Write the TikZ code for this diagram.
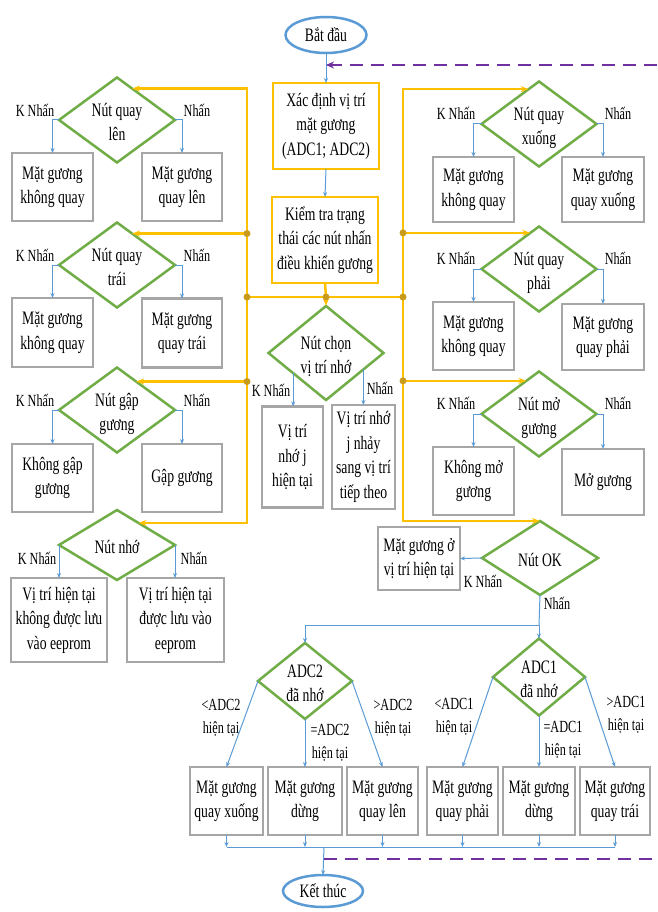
\documentclass[tikz,border=0pt]{standalone}
\usepackage{fontspec}
\setmainfont{Liberation Serif}[FakeStretch=0.72]
\usetikzlibrary{shapes.geometric,arrows.meta,calc}
\definecolor{ogold}{HTML}{FFC000}
\definecolor{odotc}{HTML}{C99B1C}
\definecolor{dgreen}{HTML}{70AD47}
\definecolor{lblue}{HTML}{5B9BD5}
\definecolor{bgray}{HTML}{A6A6A6}
\definecolor{purp}{HTML}{7030A0}
\newcommand{\dtxt}[1]{\smash{\raisebox{-8pt}{\makebox[0pt]{\begin{tabular}{@{}c@{}}#1\end{tabular}}}}}
\tikzset{
  diam/.style={diamond, draw=dgreen, line width=2.5pt, inner sep=0pt, outer sep=0pt, font=\fontsize{19}{24.5}\selectfont},
  gbox/.style={rectangle, draw=bgray, line width=2.8pt, inner sep=0pt, outer sep=0pt, align=center, font=\fontsize{19}{24.5}\selectfont},
  obox/.style={gbox, draw=ogold},
  term/.style={ellipse, draw=lblue, line width=2.5pt, inner sep=0pt, outer sep=0pt, font=\fontsize{19}{24}\selectfont},
  lab/.style={font=\fontsize{17}{23}\selectfont, align=center, inner sep=0pt},
  oline/.style={draw=ogold, line width=2.5pt},
  otip/.style={-{Stealth[length=8pt,width=6pt]}},
  bline/.style={draw=lblue, line width=1pt},
  barrow/.style={bline, -{Stealth[length=5pt,width=4pt]}},
  pline/.style={draw=purp, line width=2.5pt, dash pattern=on 13pt off 8pt},
  odot/.style={circle, fill=odotc, inner sep=0pt, minimum size=7pt}
}
\begin{document}
\begin{tikzpicture}[x=1pt,y=-1pt]
\fill[white] (0,0) rectangle (657,912);
\useasboundingbox (0,0) rectangle (657,912);

% terminals and central boxes
\node[term, minimum width=81pt, minimum height=36pt] (start) at (326,35) {Bắt đầu};
\node[obox, minimum width=106pt, minimum height=86pt] (b1) at (326,126) {Xác định vị trí\\mặt gương\\(ADC1; ADC2)};
\node[obox, minimum width=106pt, minimum height=86pt] (b2) at (325,240) {Kiểm tra trạng\\thái các nút nhấn\\điều khiển gương};
\node[term, minimum width=80pt, minimum height=32pt] (end) at (323,891) {Kết thúc};

% diamonds
\node[diam, minimum width=116pt, minimum height=85pt] (d1) at (117,120) {\dtxt{Nút quay\\lên}};
\node[diam, minimum width=116pt, minimum height=85pt] (d2) at (117,265) {\dtxt{Nút quay\\trái}};
\node[diam, minimum width=116pt, minimum height=85pt] (d3) at (117,410) {\dtxt{Nút gập\\gương}};
\node[diam, minimum width=116pt, minimum height=70pt] (d4) at (117,545) {\dtxt{Nút nhớ}};
\node[diam, minimum width=115pt, minimum height=85pt] (d5) at (539,124) {\dtxt{Nút quay\\xuống}};
\node[diam, minimum width=115pt, minimum height=85pt] (d6) at (539,269) {\dtxt{Nút quay\\phải}};
\node[diam, minimum width=115pt, minimum height=94pt] (d7) at (326,353) {\dtxt{Nút chọn\\vị trí nhớ}};
\node[diam, minimum width=115pt, minimum height=85pt] (d8) at (539,414) {\dtxt{Nút mở\\gương}};
\node[diam, minimum width=116pt, minimum height=74pt] (d9) at (540,558) {\dtxt{Nút OK}};
\node[diam, minimum width=94pt, minimum height=76pt] (d10) at (305,681) {\dtxt{ADC2\\đã nhớ}};
\node[diam, minimum width=92pt, minimum height=77pt] (d11) at (539,677) {\dtxt{ADC1\\đã nhớ}};

% left boxes
\node[gbox, minimum width=81pt, minimum height=68pt] (bA1) at (52.5,187) {Mặt gương\\không quay};
\node[gbox, minimum width=80pt, minimum height=68pt] (bB1) at (182,187) {Mặt gương\\quay lên};
\node[gbox, minimum width=81pt, minimum height=69pt] (bA2) at (52.5,332.5) {Mặt gương\\không quay};
\node[gbox, minimum width=80pt, minimum height=69pt] (bB2) at (182,333) {Mặt gương\\quay trái};
\node[gbox, minimum width=81pt, minimum height=68pt] (bA3) at (52.5,478) {Không gập\\gương};
\node[gbox, minimum width=80pt, minimum height=68pt] (bB3) at (182,478) {Gập gương};
\node[gbox, minimum width=96pt, minimum height=84pt] (bA4) at (59,620) {Vị trí hiện tại\\không được lưu\\vào eeprom};
\node[gbox, minimum width=97pt, minimum height=84pt] (bB4) at (175.5,620) {Vị trí hiện tại\\được lưu vào\\eeprom};

% right boxes
\node[gbox, minimum width=81pt, minimum height=65pt] (bC1) at (473.5,189.5) {Mặt gương\\không quay};
\node[gbox, minimum width=82pt, minimum height=65pt] (bD1) at (603,189.5) {Mặt gương\\quay xuống};
\node[gbox, minimum width=81pt, minimum height=68pt] (bC2) at (473.5,336) {Mặt gương\\không quay};
\node[gbox, minimum width=82pt, minimum height=66pt] (bD2) at (603,337) {Mặt gương\\quay phải};
\node[gbox, minimum width=81pt, minimum height=68pt] (bC3) at (473.5,481) {Không mở\\gương};
\node[gbox, minimum width=82pt, minimum height=66pt] (bD3) at (603,482) {Mở gương};

% middle boxes
\node[gbox, minimum width=61pt, minimum height=101pt] (bM1) at (292.5,457) {Vị trí\\nhớ j\\hiện tại};
\node[gbox, minimum width=63pt, minimum height=104pt] (bM2) at (363.5,457) {Vị trí nhớ\\j nhảy\\sang vị trí\\tiếp theo};
\node[gbox, minimum width=82pt, minimum height=63pt] (bOK) at (419,558.5) {Mặt gương ở\\vị trí hiện tại};

% bottom boxes
\node[gbox, minimum width=73pt, minimum height=68pt] (bx1) at (226.5,801) {Mặt gương\\quay xuống};
\node[gbox, minimum width=74pt, minimum height=68pt] (bx2) at (305,801) {Mặt gương\\dừng};
\node[gbox, minimum width=71pt, minimum height=68pt] (bx3) at (382.5,801) {Mặt gương\\quay lên};
\node[gbox, minimum width=71pt, minimum height=68pt] (bx4) at (462.5,801) {Mặt gương\\quay phải};
\node[gbox, minimum width=72pt, minimum height=68pt] (bx5) at (539,801) {Mặt gương\\dừng};
\node[gbox, minimum width=70pt, minimum height=68pt] (bx6) at (615,801) {Mặt gương\\quay trái};

% coordinates
\coordinate (busL) at (247,297);
\coordinate (busM) at (326,297);
\coordinate (busR) at (403,297);
\coordinate (e1) at ($(d1.north)!0.26!(d1.east)$);
\coordinate (e2) at ($(d2.north)!0.26!(d2.east)$);
\coordinate (e3) at ($(d3.north)!0.33!(d3.east)$);
\coordinate (e4) at ($(d4.north)!0.37!(d4.east)$);
\coordinate (e5) at ($(d5.north)!0.18!(d5.west)$);
\coordinate (e6) at ($(d6.north)!0.15!(d6.west)$);
\coordinate (e8) at ($(d8.north)!0.22!(d8.west)$);
\coordinate (pL) at ($(d7.west)!0.43!(d7.south)$);
\coordinate (pR) at ($(d7.east)!0.35!(d7.south)$);
\coordinate (jB) at (539,625);
\coordinate (jC) at (324,847);
\coordinate (pT) at (326,65);
\coordinate (pR1) at (657,65);
\coordinate (pB) at (324,859);
\coordinate (pR2) at (657,859);

% orange control flow
\draw[oline,{Stealth[length=8pt,width=6pt]}-{Stealth[length=8pt,width=6pt]}] (e1) -| (busL) |- (e4);
\draw[oline,{Stealth[length=8pt,width=6pt]}-{Stealth[length=8pt,width=6pt]}] (e5) -| (busR) |- (d9.north);
\draw[oline] (busL) -- (busR);
\draw[oline] (b2.south) -- (busM);
\draw[oline,otip] (busM) -- (d7.north);
\draw[oline,otip] (busL |- e2) -- (e2);
\draw[oline,otip] (busL |- e3) -- (e3);
\draw[oline,otip] (busR |- e6) -- (e6);
\draw[oline,otip] (busR |- e8) -- (e8);
\node[odot] (dt1) at (busL |- e2) {};
\node[odot] (dt2) at (busL) {};
\node[odot] (dt3) at (busL |- e3) {};
\node[odot] (dt4) at (busM) {};
\node[odot] (dt5) at (busR |- e6) {};
\node[odot] (dt6) at (busR) {};
\node[odot] (dt7) at (busR |- e8) {};

% blue arrows
\draw[barrow] (start.south) -- (b1.north);
\draw[barrow] (b1.south) -- (b2.north);
\draw[barrow] (d1.west) -| (bA1.north);
\draw[barrow] (d1.east) -| (bB1.north);
\draw[barrow] (d2.west) -| (bA2.north);
\draw[barrow] (d2.east) -| (bB2.north);
\draw[barrow] (d3.west) -| (bA3.north);
\draw[barrow] (d3.east) -| (bB3.north);
\draw[barrow] (d4.west) -- (d4.west |- bA4.north);
\draw[barrow] (d4.east) -- (d4.east |- bB4.north);
\draw[barrow] (d5.west) -| (bC1.north);
\draw[barrow] (d5.east) -| (bD1.north);
\draw[barrow] (d6.west) -| (bC2.north);
\draw[barrow] (d6.east) -| (bD2.north);
\draw[barrow] (d8.west) -| (bC3.north);
\draw[barrow] (d8.east) -| (bD3.north);
\draw[barrow] (pL) -- (pL |- bM1.north);
\draw[barrow] (pR) -- (pR |- bM2.north);
\draw[barrow] (d9.west) -- (bOK.east);
\draw[bline] (d9.south) -- (jB);
\draw[barrow] (jB) -- (d11.north);
\draw[barrow] (jB) -| (d10.north);
\draw[barrow] (d10.west) -- (bx1.north);
\draw[barrow] (d10.south) -- (bx2.north);
\draw[barrow] (d10.east) -- (bx3.north);
\draw[barrow] (d11.west) -- (bx4.north);
\draw[barrow] (d11.south) -- (bx5.north);
\draw[barrow] (d11.east) -- (bx6.north);
\draw[bline] (bx1.south |- jC) -- (bx6.south |- jC);
\foreach \b in {bx1,bx2,bx3,bx4,bx5,bx6} \draw[barrow] (\b.south) -- (\b.south |- jC);
\draw[barrow] (jC) -- (end.north);

% purple dashed loop
\draw[pline,-{Stealth[length=8pt,width=7pt]}] (pR1) -- (pT);
\draw[pline] (pB) -- (pR2);

% labels
\node[lab] (l1a) at (35,110) {K Nhấn};
\node[lab] (l1b) at (197,110) {Nhấn};
\node[lab] (l2a) at (35,255) {K Nhấn};
\node[lab] (l2b) at (197,255) {Nhấn};
\node[lab] (l3a) at (35,400) {K Nhấn};
\node[lab] (l3b) at (197,400) {Nhấn};
\node[lab] (l4a) at (37,558) {K Nhấn};
\node[lab] (l4b) at (194,558) {Nhấn};
\node[lab] (l5a) at (456,113) {K Nhấn};
\node[lab] (l5b) at (618,113) {Nhấn};
\node[lab] (l6a) at (456,258) {K Nhấn};
\node[lab] (l6b) at (618,258) {Nhấn};
\node[lab] (l8a) at (456,403) {K Nhấn};
\node[lab] (l8b) at (618,403) {Nhấn};
\node[lab] (l7a) at (271,390) {K Nhấn};
\node[lab] (l7b) at (380,388) {Nhấn};
\node[lab] (l9a) at (483,581) {K Nhấn};
\node[lab] (l9b) at (557,603) {Nhấn};
\node[lab] (la1) at (221,718) {<ADC2\\hiện tại};
\node[lab] (la2) at (330,743) {=ADC2\\hiện tại};
\node[lab] (la3) at (393,718) {>ADC2\\hiện tại};
\node[lab] (la4) at (454,717) {<ADC1\\hiện tại};
\node[lab] (la5) at (563,740) {=ADC1\\hiện tại};
\node[lab] (la6) at (626,715) {>ADC1\\hiện tại};
\end{tikzpicture}
\end{document}
